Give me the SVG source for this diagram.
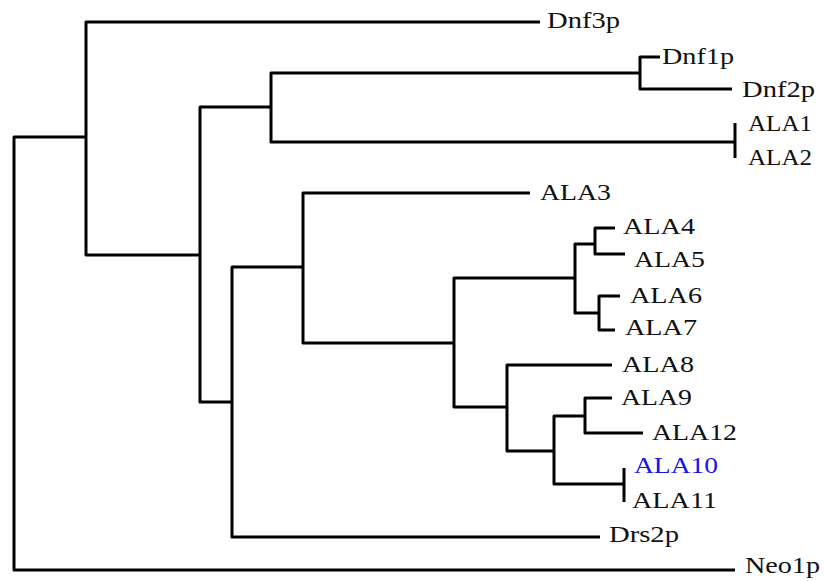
<svg xmlns="http://www.w3.org/2000/svg" width="824" height="581" viewBox="0 0 824 581">
<style>
.br{fill:none;stroke:#000;stroke-width:3;stroke-linejoin:round;stroke-linecap:butt}
.lb{font-family:"Liberation Serif","Times New Roman",serif;font-size:24px;fill:#111}
.hl{fill:#1414f0}
</style>
<rect width="824" height="581" fill="#fff"/>
<g id="connectors" class="br">
<path d="M86,137 H14 V570 H735"/>
<path d="M540,22 H86 V255 H200"/>
<path d="M271,107 H200 V402 H232"/>
<path d="M640,73 H271 V142 H735"/>
<path d="M735,123 V158"/>
<path d="M660,57 H640 V89 H732"/>
<path d="M303,267 H232 V537 H600"/>
<path d="M530,193 H303 V343 H454"/>
<path d="M575,278 H454 V407 H507"/>
<path d="M595,244 H575 V313 H599"/>
<path d="M615,228 H595 V254 H625"/>
<path d="M620,296 H599 V330 H615"/>
<path d="M612,365 H507 V451 H554"/>
<path d="M585,416 H554 V484 H624"/>
<path d="M624,468 V502"/>
<path d="M612,398 H585 V433 H643"/>
</g>
<g id="Dnf3p"><text class="lb" x="547" y="28" textLength="73" lengthAdjust="spacingAndGlyphs">Dnf3p</text></g>
<g id="Dnf1p"><text class="lb" x="662" y="64" textLength="72" lengthAdjust="spacingAndGlyphs">Dnf1p</text></g>
<g id="Dnf2p"><text class="lb" x="742" y="97" textLength="73" lengthAdjust="spacingAndGlyphs">Dnf2p</text></g>
<g id="ALA1"><text class="lb" x="748" y="131" textLength="64" lengthAdjust="spacingAndGlyphs">ALA1</text></g>
<g id="ALA2"><text class="lb" x="748" y="165" textLength="64" lengthAdjust="spacingAndGlyphs">ALA2</text></g>
<g id="ALA3"><text class="lb" x="540" y="200" textLength="71" lengthAdjust="spacingAndGlyphs">ALA3</text></g>
<g id="ALA4"><text class="lb" x="623" y="234" textLength="72" lengthAdjust="spacingAndGlyphs">ALA4</text></g>
<g id="ALA5"><text class="lb" x="634" y="267" textLength="71" lengthAdjust="spacingAndGlyphs">ALA5</text></g>
<g id="ALA6"><text class="lb" x="630" y="303" textLength="72" lengthAdjust="spacingAndGlyphs">ALA6</text></g>
<g id="ALA7"><text class="lb" x="625" y="335" textLength="72" lengthAdjust="spacingAndGlyphs">ALA7</text></g>
<g id="ALA8"><text class="lb" x="622" y="372" textLength="72" lengthAdjust="spacingAndGlyphs">ALA8</text></g>
<g id="ALA9"><text class="lb" x="621" y="405" textLength="71" lengthAdjust="spacingAndGlyphs">ALA9</text></g>
<g id="ALA12"><text class="lb" x="652" y="440" textLength="85" lengthAdjust="spacingAndGlyphs">ALA12</text></g>
<g id="ALA10"><text class="lb hl" x="634" y="473" textLength="84" lengthAdjust="spacingAndGlyphs">ALA10</text></g>
<g id="ALA11"><text class="lb" x="632" y="508" textLength="85" lengthAdjust="spacingAndGlyphs">ALA11</text></g>
<g id="Drs2p"><text class="lb" x="609" y="542" textLength="70" lengthAdjust="spacingAndGlyphs">Drs2p</text></g>
<g id="Neo1p"><text class="lb" x="745" y="573" textLength="75" lengthAdjust="spacingAndGlyphs">Neo1p</text></g>
</svg>
